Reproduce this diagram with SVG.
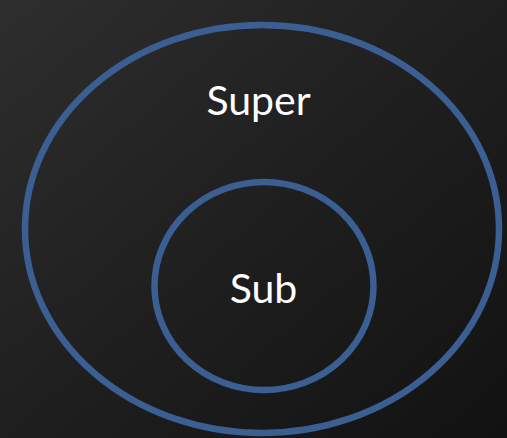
<svg xmlns="http://www.w3.org/2000/svg" width="507" height="438" viewBox="0 0 507 438">
<defs>
<linearGradient id="bg" x1="0" y1="0" x2="1" y2="1">
<stop offset="0" stop-color="#2e2e2e"/>
<stop offset="0.5" stop-color="#1f1f1f"/>
<stop offset="1" stop-color="#121212"/>
</linearGradient>
<style>
.ring{fill:none;stroke:#3b5f92;stroke-width:6.5}
.lbl{font-family:Lato,"Open Sans","DejaVu Sans",sans-serif;font-size:41px;fill:#ffffff;text-anchor:middle}
</style>
</defs>
<rect width="507" height="438" fill="url(#bg)"/>
<g id="super">
<ellipse class="ring" cx="262" cy="229" rx="237" ry="204"/>
<text class="lbl" x="258.5" y="115">Super</text>
</g>
<g id="sub">
<ellipse class="ring" cx="264" cy="286" rx="109.5" ry="104"/>
<text class="lbl" x="263.5" y="302.5">Sub</text>
</g>
<g id="connectors"/>
</svg>
